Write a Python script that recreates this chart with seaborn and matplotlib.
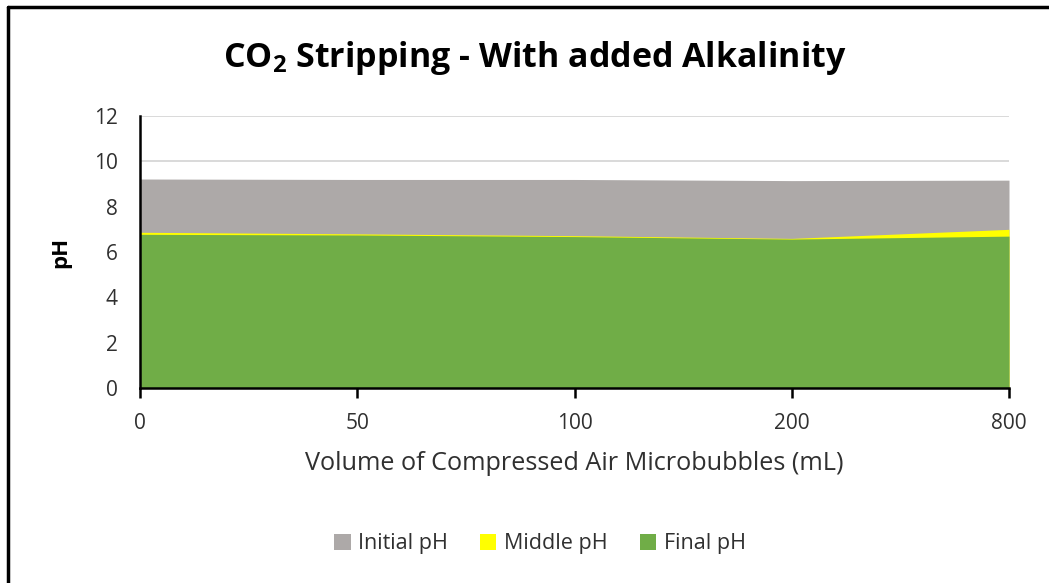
import matplotlib
matplotlib.use("Agg")
import matplotlib.pyplot as plt
from matplotlib.lines import Line2D
from matplotlib.patches import Patch
import numpy as np
import pandas as pd
import seaborn as sns

# Air volumes (mL) and measured pH at each stage
volumes = ["0", "50", "100", "200", "800"]
initial_ph = [9.22, 9.20, 9.20, 9.15, 9.17]
middle_ph = [6.87, 6.80, 6.72, 6.60, 7.00]
final_ph = [6.78, 6.75, 6.68, 6.57, 6.70]

series_names = ["Initial pH", "Middle pH", "Final pH"]
series_colors = ["#ADA9A8", "#FFFF00", "#70AD47"]

df = pd.DataFrame({
    "volume": volumes,
    "Initial pH": initial_ph,
    "Middle pH": middle_ph,
    "Final pH": final_ph,
})
df["pos"] = np.arange(len(df))
long_df = df.melt(id_vars=["volume", "pos"], value_vars=series_names,
                  var_name="stage", value_name="pH")

sns.set_theme(style="white")
plt.rcParams["font.family"] = ["Open Sans", "DejaVu Sans"]

text_color = "#303030"

fig = plt.figure(figsize=(10.49, 5.83), dpi=100)
ax = fig.add_axes([140 / 1049, 1 - 388 / 583, (1009 - 140) / 1049, (388 - 116) / 583])

# Overlapping areas, later series drawn on top
for name, color in zip(series_names, series_colors):
    sub = long_df[long_df["stage"] == name]
    ax.fill_between(sub["pos"], 0, sub["pH"], color=color, linewidth=0, zorder=2)
sns.lineplot(data=long_df, x="pos", y="pH", hue="stage", palette=series_colors,
             hue_order=series_names, linewidth=0, legend=False, ax=ax, zorder=1)

ax.set_xlim(0, len(volumes) - 1)
ax.set_ylim(0, 12)
ax.set_xticks(df["pos"])
ax.set_xticklabels(volumes)
ax.set_yticks(np.arange(0, 13, 2))
ax.yaxis.grid(True, color="#D9D9D9", linewidth=1.4, zorder=0)
ax.set_axisbelow(True)

for side in ["top", "right"]:
    ax.spines[side].set_visible(False)
for side in ["left", "bottom"]:
    ax.spines[side].set_color("black")
    ax.spines[side].set_linewidth(1.8)
    ax.spines[side].set_zorder(5)

ax.tick_params(axis="x", direction="out", length=7, width=1.8, color="black",
               labelsize=15, labelcolor=text_color, pad=11, bottom=True)
ax.tick_params(axis="y", length=0, labelsize=15, labelcolor=text_color, pad=16)

ax.set_xlabel("Volume of Compressed Air Microbubbles (mL)", fontsize=18.2,
              color=text_color, labelpad=12)
ax.set_ylabel("pH", fontsize=16, fontweight="bold", color="black", labelpad=16)

fig.text(535 / 1049, 1 - 58 / 583, r"CO$_\mathregular{2}$ Stripping - With added Alkalinity",
         ha="center", va="center", fontsize=24.5, fontweight="bold", color="black")

handles = [Patch(facecolor=c, edgecolor="none", label=n)
           for n, c in zip(series_names, series_colors)]
fig.legend(handles=handles, loc="center", bbox_to_anchor=(540 / 1049, 1 - 544 / 583),
           ncol=3, frameon=False, fontsize=15.5, handlelength=0.75, handleheight=0.75,
           handletextpad=0.35, columnspacing=1.5, labelcolor=text_color)

# Chart frame along the left and top edges
fig.add_artist(Line2D([8 / 1049, 8 / 1049], [0, 1 - 7 / 583], transform=fig.transFigure,
                      color="black", linewidth=2.5))
fig.add_artist(Line2D([8 / 1049, 1], [1 - 7 / 583, 1 - 7 / 583], transform=fig.transFigure,
                      color="black", linewidth=2.5))

fig.savefig("out.png", dpi=100)
